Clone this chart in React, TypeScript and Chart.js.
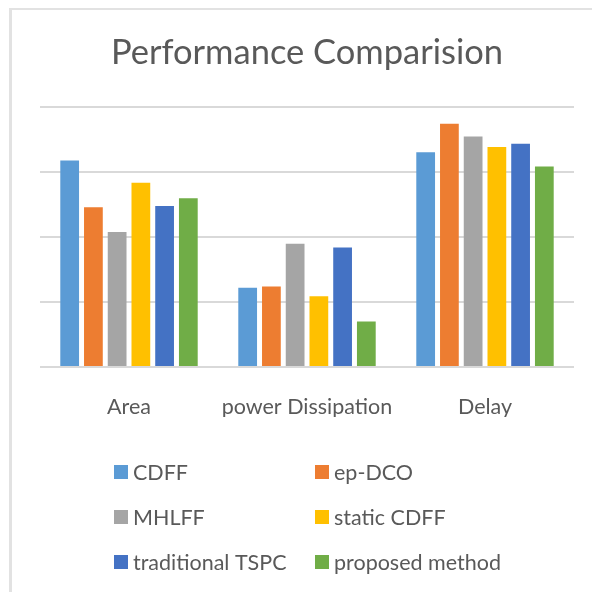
import React, { useEffect, useRef } from "react";
import { Chart, registerables } from "chart.js";

Chart.register(...registerables);

const categories = ["Area", "power Dissipation", "Delay"];
const seriesNames = ["CDFF", "ep-DCO", "MHLFF", "static CDFF", "traditional TSPC", "proposed method"];
const cdff = [3.18, 1.22, 3.31];
const epDco = [2.46, 1.24, 3.75];
const mhlff = [2.08, 1.9, 3.55];
const staticCdff = [2.84, 1.09, 3.39];
const traditionalTspc = [2.48, 1.84, 3.44];
const proposedMethod = [2.6, 0.7, 3.09];
const seriesValues = [cdff, epDco, mhlff, staticCdff, traditionalTspc, proposedMethod];
const seriesColors = ["#5B9BD5", "#ED7D31", "#A5A5A5", "#FFC000", "#4472C4", "#70AD47"];
const yMin = 0;
const yMax = 4;
const yStep = 1;

const FONT = "Lato, 'Open Sans', sans-serif";
const TEXT = "#595959";

const gridLegend = {
  id: "gridLegend",
  afterDraw(chart: any) {
    const ctx = chart.ctx;
    const cols = [114, 315];
    const rows = [472, 517, 562];
    ctx.save();
    ctx.font = `21.5px ${FONT}`;
    ctx.textBaseline = "middle";
    ctx.textAlign = "left";
    chart.data.datasets.forEach((ds: any, i: number) => {
      const x = cols[i % 2];
      const y = rows[Math.floor(i / 2)];
      ctx.fillStyle = ds.backgroundColor;
      ctx.fillRect(x, y - 7, 14, 14);
      ctx.fillStyle = TEXT;
      ctx.fillText(ds.label, x + 19, y + 1);
    });
    ctx.restore();
  },
};

export default function App() {
  const ref = useRef<HTMLCanvasElement>(null);
  useEffect(() => {
    if (!ref.current) return;
    const chart = new Chart(ref.current, {
      type: "bar",
      data: {
        labels: categories,
        datasets: seriesNames.map((name, i) => ({
          label: name,
          data: seriesValues[i],
          backgroundColor: seriesColors[i],
          borderWidth: 0,
          categoryPercentage: 0.8,
          barPercentage: 0.79,
        })),
      },
      options: {
        animation: false,
        responsive: false,
        maintainAspectRatio: false,
        layout: { padding: { left: 40, right: 18, top: 0, bottom: 175 } },
        plugins: {
          legend: { display: false },
          tooltip: { enabled: false },
          title: {
            display: true,
            text: "Performance Comparision",
            color: TEXT,
            font: { family: FONT, size: 34.5, weight: "normal" },
            padding: { top: 32, bottom: 34 },
          },
        },
        scales: {
          x: {
            grid: { display: false, drawTicks: false },
            border: { display: false },
            ticks: { color: TEXT, font: { family: FONT, size: 21.5 }, padding: 27, maxRotation: 0 },
            afterFit: (s: any) => {
              s.height = 50;
            },
          },
          y: {
            min: yMin,
            max: yMax,
            ticks: { display: false, stepSize: yStep },
            grid: { color: "#d9d9d9", lineWidth: 2, drawTicks: false },
            border: { display: false },
            afterFit: (s: any) => {
              s.width = 0;
            },
          },
        },
      },
      plugins: [gridLegend],
    });
    return () => chart.destroy();
  }, []);
  return (
    <div style={{ position: "fixed", left: 0, top: 0, width: 592, height: 592, background: "#fff" }}>
      <canvas ref={ref} width={592} height={592} style={{ position: "absolute", left: 0, top: 0 }} />
      <div
        style={{
          position: "absolute",
          left: 9,
          top: 8,
          right: -10,
          bottom: -10,
          borderLeft: "3px solid #e2e2e2",
          borderTop: "2px solid #e2e2e2",
          pointerEvents: "none",
        }}
      />
    </div>
  );
}
